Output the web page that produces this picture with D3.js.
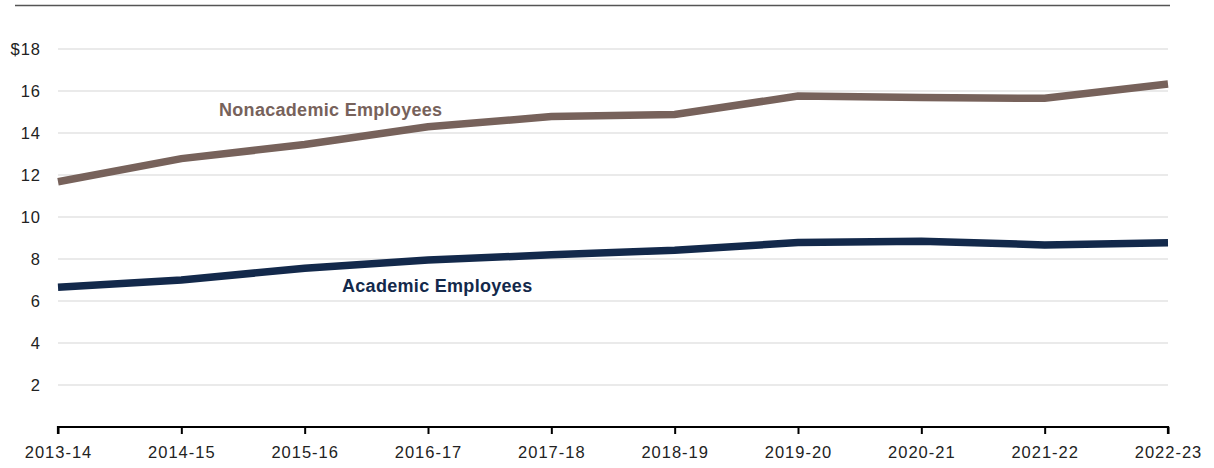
<!DOCTYPE html>
<html>
<head>
<meta charset="utf-8">
<script src="https://cdn.jsdelivr.net/npm/d3@7"></script>
<style>
  body { margin: 0; background: #fff; }
  svg { display: block; font-family: "Liberation Sans", Arial, sans-serif; }
</style>
</head>
<body>
<svg id="chart" width="1214" height="468"></svg>
<script>
var years = ["2013-14", "2014-15", "2015-16", "2016-17", "2017-18", "2018-19", "2019-20", "2020-21", "2021-22", "2022-23"];
var nonacademic = [11.68, 12.78, 13.45, 14.3, 14.78, 14.88, 15.76, 15.69, 15.65, 16.33];
var academic = [6.65, 7.0, 7.56, 7.95, 8.2, 8.42, 8.78, 8.85, 8.67, 8.77];
var yTicks = [2, 4, 6, 8, 10, 12, 14, 16, 18];

var svg = d3.select("#chart");
var plotLeft = 58, plotRight = 1168, plotTop = 49, plotBottom = 427;

var x = d3.scalePoint().domain(years).range([plotLeft, plotRight]);
var y = d3.scaleLinear().domain([0, 18]).range([plotBottom, plotTop]);

// top rule
svg.append("line")
  .attr("x1", 15).attr("x2", 1170)
  .attr("y1", 5.5).attr("y2", 5.5)
  .attr("stroke", "#555").attr("stroke-width", 1.5);

// gridlines
svg.append("g")
  .selectAll("line")
  .data(yTicks)
  .enter().append("line")
  .attr("x1", plotLeft).attr("x2", plotRight)
  .attr("y1", function(d) { return y(d); })
  .attr("y2", function(d) { return y(d); })
  .attr("stroke", "#e3e3e3").attr("stroke-width", 1.5);

// y labels
svg.append("g")
  .selectAll("text")
  .data(yTicks)
  .enter().append("text")
  .attr("x", 41)
  .attr("y", function(d) { return y(d); })
  .attr("dy", "0.36em")
  .attr("text-anchor", "end")
  .attr("font-size", 16.5)
  .attr("letter-spacing", 1)
  .attr("fill", "#222")
  .text(function(d) { return d == 18 ? "$" + d : d; });

// x axis
var xAxis = svg.append("g")
  .attr("transform", "translate(0," + plotBottom + ")")
  .call(d3.axisBottom(x).tickSize(7).tickPadding(12));
xAxis.select(".domain").attr("stroke", "#000").attr("stroke-width", 2.2)
  .attr("d", "M" + plotLeft + ",7V0H" + plotRight + "V7");
xAxis.selectAll(".tick line").attr("stroke", "#000").attr("stroke-width", 2);
xAxis.selectAll(".tick text")
  .attr("font-size", 16.5)
  .attr("letter-spacing", 1)
  .attr("font-family", "Liberation Sans, Arial, sans-serif")
  .attr("fill", "#222");

var line = d3.line()
  .x(function(d, i) { return x(years[i]); })
  .y(function(d) { return y(d); });

svg.append("path")
  .datum(nonacademic)
  .attr("fill", "none")
  .attr("stroke", "#77625b")
  .attr("stroke-width", 7.5)
  .attr("d", line);

svg.append("path")
  .datum(academic)
  .attr("fill", "none")
  .attr("stroke", "#13294b")
  .attr("stroke-width", 7.5)
  .attr("d", line);

// labels
svg.append("text")
  .attr("x", 219).attr("y", 115.5)
  .attr("font-size", 18).attr("font-weight", "bold")
  .attr("letter-spacing", 0.3)
  .attr("fill", "#77625b")
  .text("Nonacademic Employees");

svg.append("text")
  .attr("x", 342).attr("y", 291.5)
  .attr("font-size", 18).attr("font-weight", "bold")
  .attr("letter-spacing", 0.3)
  .attr("fill", "#13294b")
  .text("Academic Employees");
</script>
</body>
</html>
